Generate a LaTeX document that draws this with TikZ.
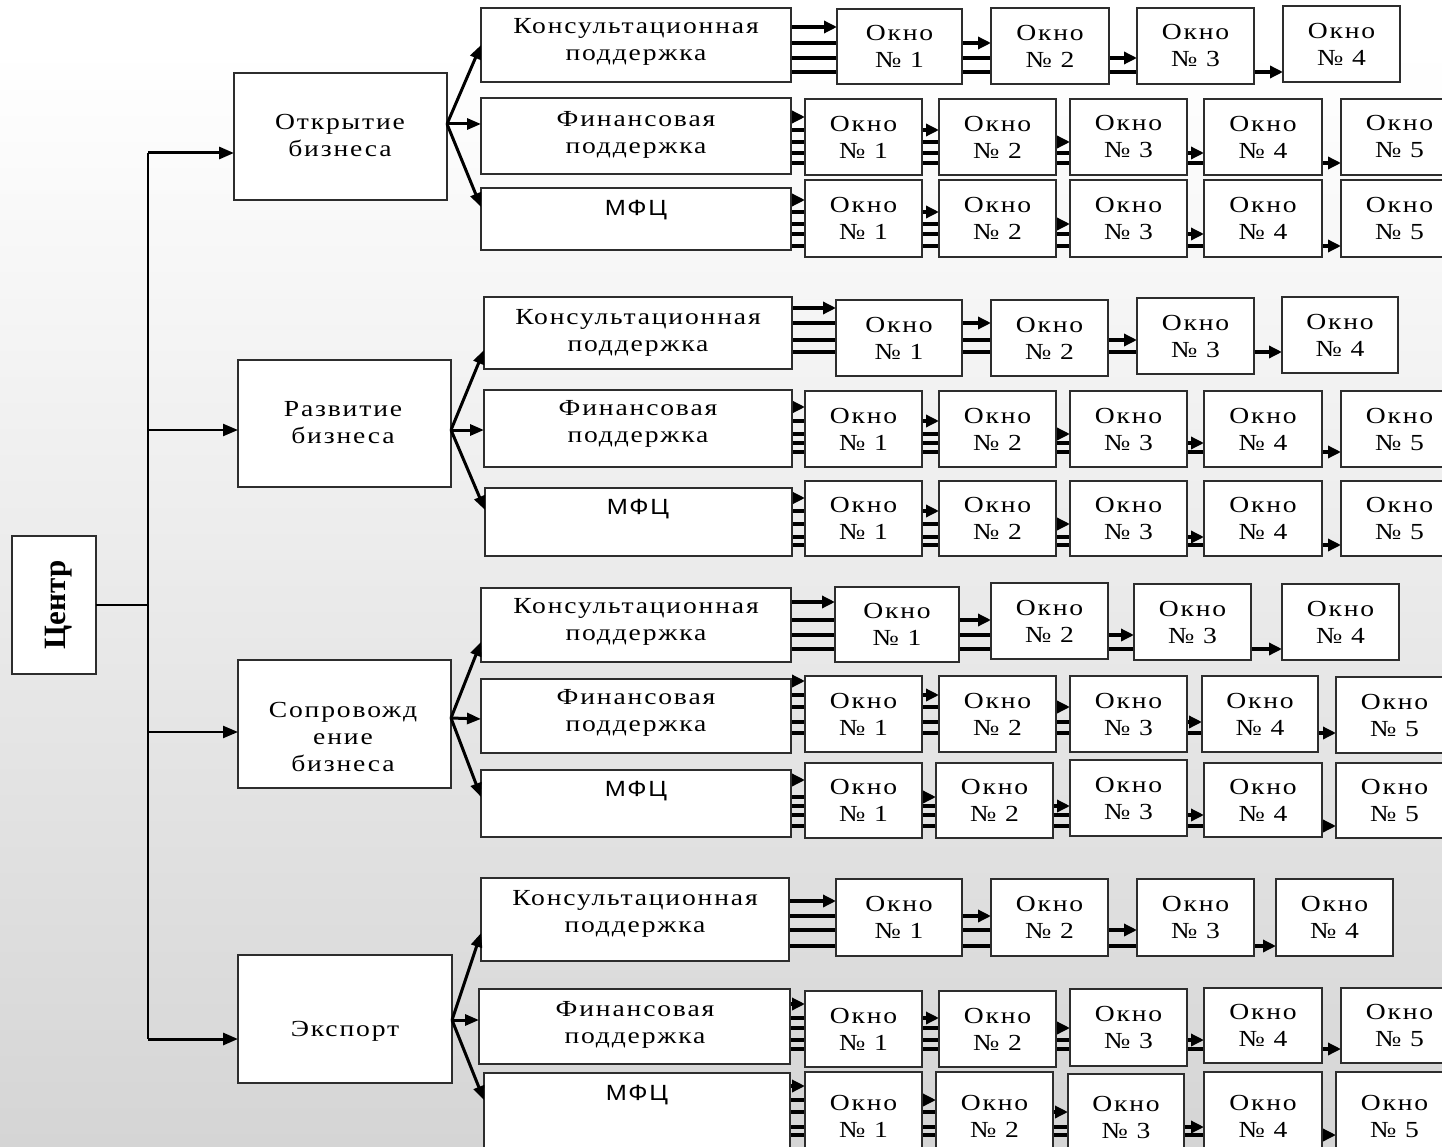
\documentclass[tikz,border=0pt]{standalone}
\usepackage{fontspec}
\setmainfont{Liberation Serif}
\newfontfamily\labfont[FakeStretch=1.2,LetterSpace=8]{Liberation Serif}
\newfontfamily\mfcfont[FakeStretch=1.15,LetterSpace=8]{Liberation Sans}
\usetikzlibrary{arrows.meta}
\pgfdeclarelayer{back}\pgfdeclarelayer{links}
\pgfsetlayers{back,links,main}
\definecolor{bordc}{RGB}{45,45,45}
\definecolor{bgbot}{RGB}{213,213,213}
\newcommand\bx[5]{\node[box,minimum width={#4-#2},minimum height={#5-#3}] (#1) at ({(#2+#4)/2},{(#3+#5)/2}) {};}
\newcommand\win[6]{\node[winbox,minimum width={#4-#2},minimum height={#5-#3}] (#1) at ({(#2+#4)/2},{(#3+#5)/2}) {Окно\\№ #6};}
\begin{document}
\begin{tikzpicture}[x=1pt,y=-1pt,
 box/.style={draw=bordc,line width=1.6pt,fill=white,inner sep=0pt,outer sep=0pt},
 winbox/.style={box,align=center,font=\labfont\fontsize{23}{27}\selectfont},
 lbl/.style={align=center,inner sep=0pt,font=\labfont\fontsize{23}{27}\selectfont},
 mfc/.style={inner sep=0pt,font=\mfcfont\fontsize{22}{27}\selectfont},
 link/.style={line width=3.5pt,-{Triangle[length=13pt,width=12pt]}},
 fan/.style={line width=3pt,-{Triangle[length=14pt,width=11pt]}},
 trunk/.style={line width=1.6pt},
 feed/.style={line width=3pt,-{Triangle[length=15pt,width=12pt]}}]
\useasboundingbox (0,0) rectangle (1442,1147);
\begin{pgfonlayer}{back}
\fill[white] (0,0) rectangle (1442,1147);
\shade[top color=white,bottom color=bgbot] (0,50) rectangle (1442,1147);
\end{pgfonlayer}

% centre
\bx{C}{12}{536}{96}{674}
\node[inner sep=0pt,rotate=90,font=\bfseries\fontsize{31}{31}\selectfont] (Ct) at (59,605) {Центр};

% level 1
\bx{L1}{234}{73}{447}{200}
\bx{L2}{238}{360}{451}{487}
\bx{L3}{238}{660}{451}{788}
\bx{L4}{238}{955}{452}{1083}
\node[lbl] (L1t) at (340,136) {Открытие\\бизнеса};
\node[lbl] (L2t) at (343,423) {Развитие\\бизнеса};
\node[lbl] (L3t) at (343,737) {Сопровожд\\ение\\бизнеса};
\node[lbl] (L4t) at (345,1031) {Экспорт};

% modules
\bx{A1k}{481}{8}{791}{82}
\bx{A2k}{481}{98}{791}{174}
\bx{A3k}{481}{188}{791}{250}
\bx{B1k}{484}{297}{792}{369}
\bx{B2k}{484}{390}{792}{467}
\bx{B3k}{485}{488}{792}{556}
\bx{C1k}{481}{588}{791}{662}
\bx{C2k}{481}{679}{791}{753}
\bx{C3k}{481}{770}{791}{837}
\bx{D1k}{481}{878}{789}{961}
\bx{D2k}{479}{989}{790}{1064}
\bx{D3k}{484}{1073}{790}{1165}
\node[lbl] (A1t) at (636,42) {Консультационная\\поддержка};
\node[lbl] (A2t) at (636,135) {Финансовая\\поддержка};
\node[mfc] (A3t) at (636,210) {МФЦ};
\node[lbl] (B1t) at (638,333) {Консультационная\\поддержка};
\node[lbl] (B2t) at (638,424) {Финансовая\\поддержка};
\node[mfc] (B3t) at (638,509) {МФЦ};
\node[lbl] (C1t) at (636,622) {Консультационная\\поддержка};
\node[lbl] (C2t) at (636,713) {Финансовая\\поддержка};
\node[mfc] (C3t) at (636,791) {МФЦ};
\node[lbl] (D1t) at (635,914) {Консультационная\\поддержка};
\node[lbl] (D2t) at (635,1025) {Финансовая\\поддержка};
\node[mfc] (D3t) at (637,1095) {МФЦ};

% windows
\win{A1w1}{837}{9}{962}{84}{1}
\win{A1w2}{991}{8}{1109}{84}{2}
\win{A1w3}{1137}{8}{1254}{84}{3}
\win{A1w4}{1283}{6}{1400}{82}{4}
\win{A2w1}{805}{99}{922}{175}{1}
\win{A2w2}{939}{99}{1056}{175}{2}
\win{A2w3}{1070}{99}{1187}{175}{3}
\win{A2w4}{1204}{99}{1322}{175}{4}
\win{A2w5}{1341}{99}{1458}{175}{5}
\win{A3w1}{805}{180}{922}{257}{1}
\win{A3w2}{939}{180}{1056}{257}{2}
\win{A3w3}{1070}{180}{1187}{257}{3}
\win{A3w4}{1204}{180}{1322}{257}{4}
\win{A3w5}{1341}{180}{1458}{257}{5}

\win{B1w1}{836}{300}{962}{376}{1}
\win{B1w2}{991}{300}{1108}{376}{2}
\win{B1w3}{1137}{298}{1254}{374}{3}
\win{B1w4}{1282}{297}{1398}{373}{4}
\win{B2w1}{805}{391}{922}{467}{1}
\win{B2w2}{939}{391}{1056}{467}{2}
\win{B2w3}{1070}{391}{1187}{467}{3}
\win{B2w4}{1204}{391}{1322}{467}{4}
\win{B2w5}{1341}{391}{1458}{467}{5}
\win{B3w1}{805}{481}{922}{556}{1}
\win{B3w2}{939}{481}{1056}{556}{2}
\win{B3w3}{1070}{481}{1187}{556}{3}
\win{B3w4}{1204}{481}{1322}{556}{4}
\win{B3w5}{1341}{481}{1458}{556}{5}

\win{C1w1}{835}{587}{959}{662}{1}
\win{C1w2}{991}{583}{1108}{659}{2}
\win{C1w3}{1134}{584}{1251}{660}{3}
\win{C1w4}{1282}{584}{1399}{660}{4}
\win{C2w1}{805}{676}{922}{752}{1}
\win{C2w2}{939}{676}{1056}{752}{2}
\win{C2w3}{1070}{676}{1187}{752}{3}
\win{C2w4}{1202}{676}{1318}{752}{4}
\win{C2w5}{1336}{677}{1453}{753}{5}
\win{C3w1}{805}{763}{922}{838}{1}
\win{C3w2}{936}{763}{1053}{838}{2}
\win{C3w3}{1070}{760}{1187}{836}{3}
\win{C3w4}{1204}{763}{1322}{837}{4}
\win{C3w5}{1336}{763}{1453}{838}{5}

\win{D1w1}{836}{879}{962}{956}{1}
\win{D1w2}{991}{879}{1108}{956}{2}
\win{D1w3}{1137}{879}{1254}{956}{3}
\win{D1w4}{1276}{879}{1393}{956}{4}
\win{D2w1}{805}{991}{922}{1067}{1}
\win{D2w2}{939}{991}{1056}{1067}{2}
\win{D2w3}{1070}{989}{1187}{1066}{3}
\win{D2w4}{1204}{988}{1322}{1063}{4}
\win{D2w5}{1341}{988}{1458}{1063}{5}
\win{D3w1}{805}{1072}{922}{1160}{1}
\win{D3w2}{936}{1072}{1053}{1160}{2}
\win{D3w3}{1068}{1074}{1184}{1160}{3}
\win{D3w4}{1204}{1072}{1322}{1160}{4}
\win{D3w5}{1336}{1072}{1453}{1160}{5}

% trunk and feeds
\coordinate (t1) at (148,153);
\coordinate (t2) at (148,430);
\coordinate (t3) at (148,732);
\coordinate (t4) at (148,1039);
\draw[trunk] (C.east) -- (C.east -| t1);
\draw[trunk] (t1) -- (t4);
\draw[feed] (t1) -- (L1.west |- t1);
\draw[feed,line width=2.3pt] (t2) -- (L2.west |- t2);
\draw[feed,line width=2.3pt] (t3) -- (L3.west |- t3);
\draw[feed] (t4) -- (L4.west |- t4);

% fans
\draw[fan] (L1.east |- 0,124) -- (A1k.west |- 0,45);
\draw[fan] (L1.east |- 0,124) -- (A2k.west |- 0,124);
\draw[fan] (L1.east |- 0,124) -- (A3k.west |- 0,207);
\draw[fan] (L2.east |- 0,430) -- (B1k.west |- 0,350);
\draw[fan] (L2.east |- 0,430) -- (B2k.west |- 0,430);
\draw[fan] (L2.east |- 0,430) -- (B3k.west |- 0,510);
\draw[fan] (L3.east |- 0,718) -- (C1k.west |- 0,642);
\draw[fan] (L3.east |- 0,718) -- (C2k.west |- 0,719);
\draw[fan] (L3.east |- 0,718) -- (C3k.west |- 0,797);
\draw[fan] (L4.east |- 0,1020) -- (D1k.west |- 0,933);
\draw[fan] (L4.east |- 0,1020) -- (D2k.west |- 0,1020);
\draw[fan] (L4.east |- 0,1020) -- (D3k.west |- 0,1100);

% window links
\begin{pgfonlayer}{links}
\foreach \k/\y in {1/27,2/43,3/58,4/72}{\draw[link] (A1k.east |- 0,\y) -- (A1w\k.west |- 0,\y);}
\foreach \k/\y in {1/117,2/130,3/142,4/153,5/163}{\draw[link] (A2k.east |- 0,\y) -- (A2w\k.west |- 0,\y);}
\foreach \k/\y in {1/200,2/212,3/224,4/234,5/246}{\draw[link] (A3k.east |- 0,\y) -- (A3w\k.west |- 0,\y);}
\foreach \k/\y in {1/308,2/323,3/340,4/352}{\draw[link] (B1k.east |- 0,\y) -- (B1w\k.west |- 0,\y);}
\foreach \k/\y in {1/407,2/421,3/434,4/443,5/452}{\draw[link] (B2k.east |- 0,\y) -- (B2w\k.west |- 0,\y);}
\foreach \k/\y in {1/498,2/511,3/524,4/537,5/545}{\draw[link] (B3k.east |- 0,\y) -- (B3w\k.west |- 0,\y);}
\foreach \k/\y in {1/602,2/620,3/635,4/649}{\draw[link] (C1k.east |- 0,\y) -- (C1w\k.west |- 0,\y);}
\foreach \k/\y in {1/681,2/695,3/707,4/722,5/733}{\draw[link] (C2k.east |- 0,\y) -- (C2w\k.west |- 0,\y);}
\foreach \k/\y in {1/780,2/797,3/806,4/815,5/826}{\draw[link] (C3k.east |- 0,\y) -- (C3w\k.west |- 0,\y);}
\foreach \k/\y in {1/901,2/916,3/930,4/946}{\draw[link] (D1k.east |- 0,\y) -- (D1w\k.west |- 0,\y);}
\foreach \k/\y in {1/1004,2/1018,3/1028,4/1040,5/1049}{\draw[link] (D2k.east |- 0,\y) -- (D2w\k.west |- 0,\y);}
\foreach \k/\y in {1/1086,2/1100,3/1112,4/1127,5/1135}{\draw[link] (D3k.east |- 0,\y) -- (D3w\k.west |- 0,\y);}
\end{pgfonlayer}
\end{tikzpicture}
\end{document}
